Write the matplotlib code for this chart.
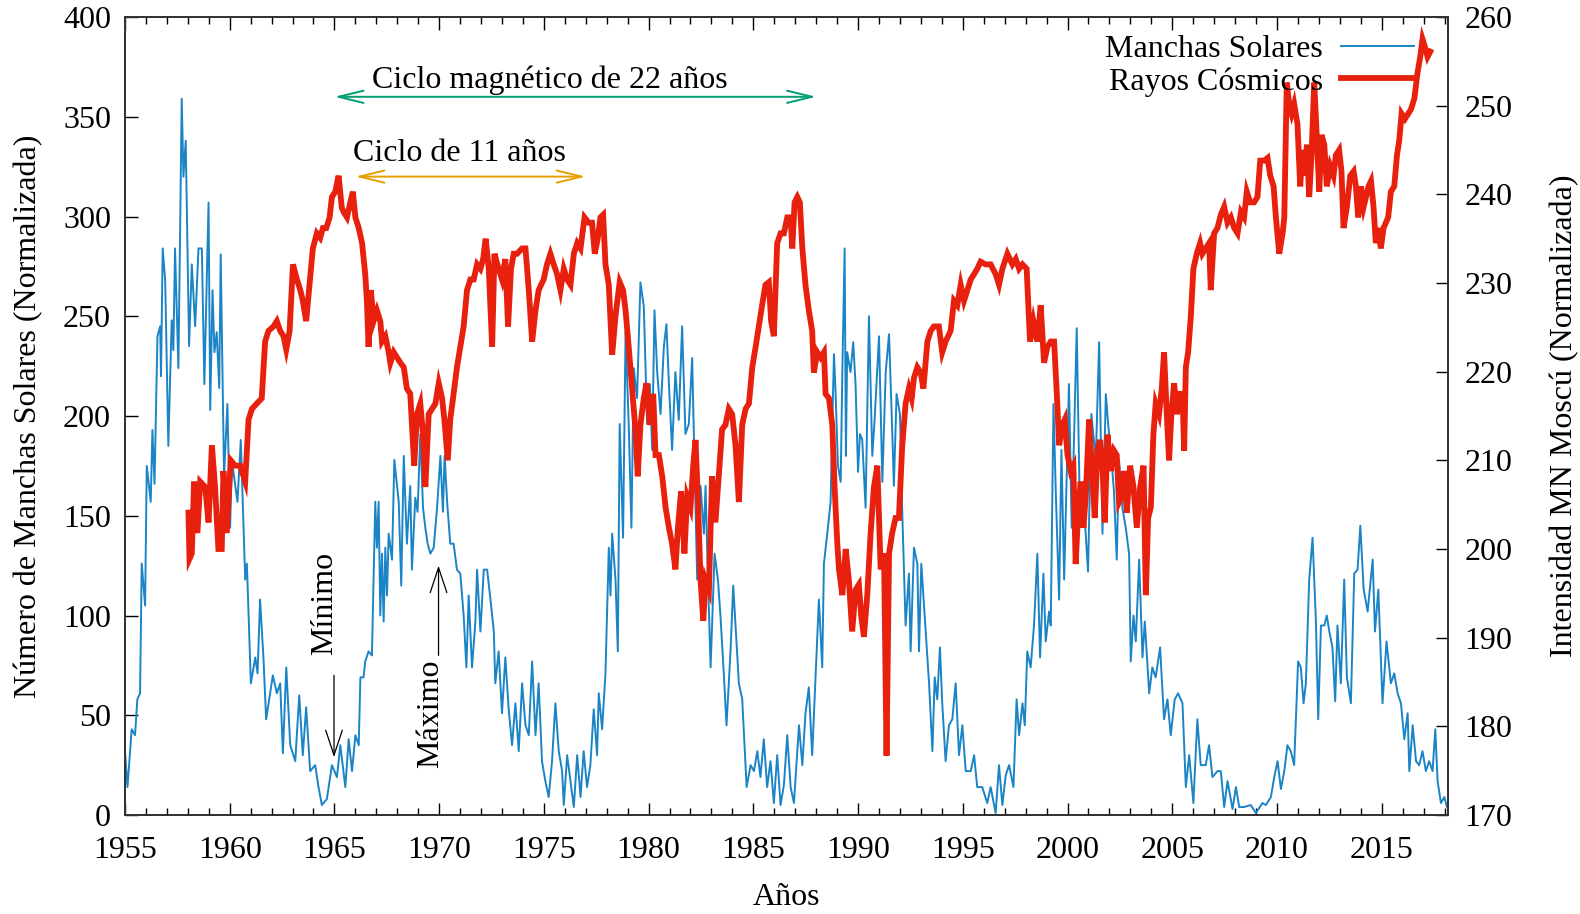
import matplotlib
matplotlib.use("Agg")
import matplotlib.pyplot as plt
from matplotlib.lines import Line2D
from matplotlib.ticker import MultipleLocator

plt.rcParams['font.family'] = ['Liberation Serif', 'DejaVu Serif']
plt.rcParams['mathtext.fontset'] = 'stix'

# Monthly sunspot number (normalised)
sunspot_year = [
    1955.00, 1955.12, 1955.32, 1955.48, 1955.59, 1955.72, 1955.80, 1955.96, 1956.04, 1956.23,
    1956.31, 1956.41, 1956.55, 1956.68, 1956.72, 1956.80, 1956.92, 1957.07, 1957.23, 1957.31,
    1957.39, 1957.55, 1957.71, 1957.79, 1957.90, 1958.06, 1958.19, 1958.35, 1958.51, 1958.67,
    1958.79, 1958.99, 1959.07, 1959.18, 1959.27, 1959.38, 1959.50, 1959.57, 1959.73, 1959.89,
    1960.02, 1960.10, 1960.37, 1960.53, 1960.74, 1960.82, 1961.01, 1961.22, 1961.33, 1961.45,
    1961.61, 1961.74, 1962.06, 1962.25, 1962.41, 1962.54, 1962.70, 1962.89, 1963.13, 1963.32,
    1963.49, 1963.65, 1963.84, 1964.08, 1964.24, 1964.40, 1964.64, 1964.88, 1965.12, 1965.28,
    1965.52, 1965.68, 1965.84, 1966.00, 1966.16, 1966.24, 1966.39, 1966.47, 1966.63, 1966.79,
    1966.95, 1967.03, 1967.11, 1967.19, 1967.27, 1967.35, 1967.43, 1967.51, 1967.59, 1967.75,
    1967.86, 1968.07, 1968.19, 1968.31, 1968.46, 1968.62, 1968.70, 1968.86, 1968.97, 1969.10,
    1969.23, 1969.34, 1969.45, 1969.58, 1969.74, 1969.90, 1970.06, 1970.18, 1970.26, 1970.38,
    1970.53, 1970.69, 1970.85, 1971.01, 1971.17, 1971.30, 1971.41, 1971.57, 1971.73, 1971.81,
    1971.97, 1972.13, 1972.29, 1972.45, 1972.61, 1972.68, 1972.84, 1973.00, 1973.16, 1973.32,
    1973.48, 1973.64, 1973.80, 1973.96, 1974.12, 1974.28, 1974.44, 1974.60, 1974.75, 1974.91,
    1975.07, 1975.23, 1975.39, 1975.55, 1975.71, 1975.87, 1975.95, 1976.11, 1976.27, 1976.43,
    1976.59, 1976.75, 1976.90, 1977.06, 1977.22, 1977.38, 1977.54, 1977.62, 1977.78, 1977.94,
    1978.10, 1978.18, 1978.26, 1978.42, 1978.53, 1978.62, 1978.78, 1978.90, 1979.05, 1979.18,
    1979.29, 1979.45, 1979.61, 1979.77, 1979.93, 1980.06, 1980.17, 1980.28, 1980.41, 1980.57,
    1980.73, 1980.85, 1980.97, 1981.12, 1981.28, 1981.44, 1981.60, 1981.76, 1981.92, 1982.08,
    1982.16, 1982.32, 1982.48, 1982.64, 1982.72, 1982.80, 1982.96, 1983.15, 1983.31, 1983.43,
    1983.59, 1983.72, 1983.91, 1984.04, 1984.15, 1984.31, 1984.47, 1984.68, 1984.87, 1985.03,
    1985.19, 1985.34, 1985.50, 1985.66, 1985.82, 1985.98, 1986.14, 1986.30, 1986.46, 1986.62,
    1986.78, 1986.94, 1987.18, 1987.34, 1987.49, 1987.65, 1987.81, 1987.97, 1988.13, 1988.29,
    1988.37, 1988.53, 1988.69, 1988.77, 1988.85, 1988.93, 1989.04, 1989.17, 1989.25, 1989.36,
    1989.42, 1989.48, 1989.64, 1989.77, 1989.88, 1990.00, 1990.09, 1990.20, 1990.36, 1990.52,
    1990.68, 1990.79, 1991.00, 1991.16, 1991.32, 1991.48, 1991.63, 1991.71, 1991.84, 1992.00,
    1992.11, 1992.27, 1992.43, 1992.51, 1992.67, 1992.83, 1992.91, 1993.02, 1993.23, 1993.39,
    1993.55, 1993.66, 1993.78, 1993.91, 1994.02, 1994.18, 1994.34, 1994.50, 1994.66, 1994.82,
    1994.98, 1995.14, 1995.38, 1995.54, 1995.69, 1995.93, 1996.17, 1996.33, 1996.57, 1996.73,
    1996.89, 1997.05, 1997.21, 1997.42, 1997.57, 1997.69, 1997.85, 1997.96, 1998.08, 1998.24,
    1998.40, 1998.56, 1998.69, 1998.85, 1998.96, 1999.12, 1999.20, 1999.33, 1999.44, 1999.60,
    1999.71, 1999.84, 1999.96, 2000.07, 2000.20, 2000.31, 2000.44, 2000.57, 2000.71, 2000.82,
    2000.98, 2001.14, 2001.35, 2001.51, 2001.67, 2001.83, 2001.94, 2002.10, 2002.22, 2002.35,
    2002.46, 2002.62, 2002.78, 2002.94, 2003.02, 2003.15, 2003.26, 2003.42, 2003.58, 2003.69,
    2003.90, 2004.05, 2004.21, 2004.42, 2004.61, 2004.77, 2004.93, 2005.12, 2005.28, 2005.49,
    2005.65, 2005.81, 2006.01, 2006.20, 2006.36, 2006.60, 2006.76, 2006.92, 2007.16, 2007.32,
    2007.48, 2007.64, 2007.88, 2008.04, 2008.20, 2008.43, 2008.75, 2008.99, 2009.31, 2009.47,
    2009.71, 2009.87, 2010.03, 2010.19, 2010.35, 2010.50, 2010.66, 2010.82, 2011.01, 2011.14,
    2011.27, 2011.38, 2011.54, 2011.70, 2011.86, 2011.97, 2012.10, 2012.26, 2012.38, 2012.50,
    2012.65, 2012.78, 2012.89, 2013.05, 2013.21, 2013.34, 2013.53, 2013.69, 2013.85, 2013.98,
    2014.14, 2014.33, 2014.57, 2014.68, 2014.84, 2015.04, 2015.23, 2015.44, 2015.60, 2015.76,
    2015.92, 2016.08, 2016.24, 2016.32, 2016.48, 2016.64, 2016.79, 2016.95, 2017.11, 2017.27,
    2017.43, 2017.56, 2017.67, 2017.83, 2017.99, 2018.12,
]
sunspot_value = [
    32, 14, 43, 40, 58, 61, 126, 105, 175, 157,
    193, 166, 240, 245, 220, 284, 268, 185, 248, 233,
    284, 224, 359, 320, 338, 235, 276, 245, 284, 284,
    216, 307, 203, 263, 232, 242, 214, 281, 170, 206,
    144, 178, 157, 188, 118, 126, 66, 79, 71, 108,
    79, 48, 70, 61, 66, 31, 74, 35, 27, 60,
    30, 54, 22, 25, 14, 5, 8, 25, 19, 35,
    14, 38, 22, 40, 35, 69, 69, 77, 82, 80,
    157, 134, 157, 100, 131, 97, 134, 110, 141, 128,
    178, 157, 115, 180, 136, 165, 123, 159, 152, 191,
    154, 144, 136, 131, 134, 154, 180, 152, 180, 157,
    136, 136, 123, 121, 100, 74, 110, 74, 97, 123,
    92, 123, 123, 108, 92, 66, 82, 51, 79, 53,
    35, 56, 32, 66, 45, 40, 77, 40, 66, 27,
    17, 9, 27, 56, 32, 22, 5, 30, 17, 4,
    30, 9, 32, 14, 25, 53, 30, 61, 43, 71,
    134, 110, 141, 118, 82, 196, 139, 242, 196, 144,
    224, 209, 267, 255, 196, 216, 183, 253, 222, 201,
    235, 246, 216, 183, 222, 198, 245, 191, 196, 229,
    191, 118, 165, 141, 165, 131, 74, 131, 118, 100,
    71, 45, 82, 115, 95, 66, 58, 14, 25, 22,
    32, 19, 38, 14, 27, 6, 30, 5, 15, 40,
    14, 6, 45, 25, 51, 64, 30, 69, 108, 74,
    126, 141, 157, 196, 231, 211, 175, 167, 222, 284,
    180, 232, 222, 237, 216, 172, 191, 188, 154, 250,
    180, 198, 240, 167, 222, 241, 193, 165, 211, 201,
    152, 95, 121, 82, 134, 126, 82, 126, 92, 66,
    32, 69, 58, 84, 56, 27, 45, 48, 66, 30,
    45, 22, 22, 30, 14, 14, 6, 14, 1, 25,
    5, 20, 25, 14, 58, 40, 56, 45, 82, 74,
    95, 131, 79, 121, 87, 102, 95, 206, 162, 108,
    183, 118, 170, 216, 144, 188, 244, 165, 154, 149,
    122, 201, 178, 237, 141, 211, 196, 178, 162, 128,
    178, 154, 144, 131, 77, 100, 87, 128, 79, 97,
    61, 74, 69, 84, 48, 58, 40, 58, 61, 56,
    14, 30, 6, 48, 25, 25, 35, 19, 22, 22,
    4, 17, 3, 14, 4, 4, 5, 1, 6, 5,
    9, 19, 27, 13, 22, 35, 32, 25, 77, 74,
    56, 66, 118, 139, 97, 48, 95, 95, 100, 92,
    84, 57, 95, 66, 118, 69, 56, 121, 123, 145,
    113, 102, 128, 92, 113, 56, 87, 66, 71, 61,
    56, 38, 51, 22, 45, 27, 25, 32, 22, 27,
    22, 43, 17, 6, 9, 4,
]

# Moscow neutron monitor intensity (normalised)
cosmic_year = [
    1958.03, 1958.08, 1958.19, 1958.30, 1958.46, 1958.59, 1958.83, 1958.99, 1959.15, 1959.30,
    1959.46, 1959.62, 1959.70, 1959.86, 1960.05, 1960.26, 1960.50, 1960.74, 1960.90, 1961.06,
    1961.29, 1961.53, 1961.69, 1961.85, 1962.09, 1962.25, 1962.41, 1962.57, 1962.70, 1962.86,
    1963.02, 1963.21, 1963.37, 1963.49, 1963.65, 1963.81, 1963.97, 1964.16, 1964.32, 1964.45,
    1964.61, 1964.77, 1964.88, 1965.04, 1965.20, 1965.35, 1965.44, 1965.60, 1965.76, 1965.88,
    1966.00, 1966.16, 1966.32, 1966.47, 1966.55, 1966.63, 1966.74, 1966.87, 1967.03, 1967.19,
    1967.27, 1967.43, 1967.59, 1967.67, 1967.83, 1967.99, 1968.15, 1968.31, 1968.46, 1968.62,
    1968.70, 1968.81, 1968.94, 1969.10, 1969.23, 1969.34, 1969.50, 1969.66, 1969.82, 1969.98,
    1970.14, 1970.25, 1970.41, 1970.53, 1970.69, 1970.85, 1971.01, 1971.17, 1971.33, 1971.49,
    1971.65, 1971.81, 1971.97, 1972.10, 1972.22, 1972.37, 1972.53, 1972.64, 1972.84, 1973.00,
    1973.16, 1973.29, 1973.43, 1973.56, 1973.72, 1973.96, 1974.12, 1974.28, 1974.44, 1974.60,
    1974.75, 1974.99, 1975.15, 1975.31, 1975.47, 1975.63, 1975.79, 1975.95, 1976.11, 1976.27,
    1976.43, 1976.59, 1976.75, 1976.94, 1977.14, 1977.30, 1977.43, 1977.57, 1977.70, 1977.83,
    1977.94, 1978.10, 1978.26, 1978.42, 1978.62, 1978.78, 1978.90, 1979.05, 1979.21, 1979.37,
    1979.48, 1979.61, 1979.77, 1979.90, 1980.06, 1980.22, 1980.33, 1980.49, 1980.65, 1980.81,
    1980.97, 1981.12, 1981.28, 1981.40, 1981.55, 1981.71, 1981.84, 1982.00, 1982.13, 1982.24,
    1982.35, 1982.48, 1982.61, 1982.72, 1982.88, 1983.03, 1983.19, 1983.35, 1983.51, 1983.67,
    1983.83, 1983.99, 1984.15, 1984.31, 1984.47, 1984.63, 1984.79, 1984.95, 1985.11, 1985.26,
    1985.42, 1985.58, 1985.74, 1985.85, 1985.98, 1986.14, 1986.30, 1986.46, 1986.62, 1986.78,
    1986.86, 1986.97, 1987.10, 1987.22, 1987.34, 1987.49, 1987.65, 1987.81, 1987.89, 1988.05,
    1988.21, 1988.37, 1988.45, 1988.61, 1988.77, 1988.88, 1989.01, 1989.09, 1989.25, 1989.41,
    1989.56, 1989.72, 1989.88, 1990.04, 1990.15, 1990.28, 1990.44, 1990.60, 1990.76, 1990.92,
    1991.08, 1991.24, 1991.36, 1991.48, 1991.63, 1991.79, 1991.95, 1992.11, 1992.27, 1992.43,
    1992.56, 1992.67, 1992.83, 1992.99, 1993.12, 1993.31, 1993.47, 1993.62, 1993.86, 1994.02,
    1994.18, 1994.42, 1994.58, 1994.74, 1994.90, 1995.06, 1995.22, 1995.38, 1995.54, 1995.69,
    1995.85, 1996.09, 1996.33, 1996.57, 1996.73, 1996.89, 1997.13, 1997.37, 1997.53, 1997.69,
    1997.85, 1998.05, 1998.21, 1998.37, 1998.56, 1998.72, 1998.88, 1999.04, 1999.20, 1999.36,
    1999.49, 1999.60, 1999.76, 1999.87, 2000.00, 2000.15, 2000.28, 2000.39, 2000.52, 2000.63,
    2000.76, 2000.87, 2001.03, 2001.19, 2001.30, 2001.43, 2001.56, 2001.67, 2001.78, 2001.91,
    2002.06, 2002.22, 2002.35, 2002.46, 2002.57, 2002.70, 2002.83, 2002.99, 2003.15, 2003.31,
    2003.47, 2003.63, 2003.74, 2003.85, 2003.98, 2004.10, 2004.21, 2004.37, 2004.50, 2004.61,
    2004.74, 2004.85, 2004.96, 2005.09, 2005.22, 2005.38, 2005.49, 2005.57, 2005.65, 2005.76,
    2005.89, 2006.01, 2006.17, 2006.33, 2006.44, 2006.60, 2006.76, 2006.84, 2007.00, 2007.16,
    2007.32, 2007.48, 2007.64, 2007.80, 2007.96, 2008.12, 2008.28, 2008.43, 2008.56, 2008.72,
    2008.91, 2009.07, 2009.20, 2009.39, 2009.55, 2009.68, 2009.84, 2009.95, 2010.11, 2010.27,
    2010.35, 2010.47, 2010.58, 2010.70, 2010.82, 2010.98, 2011.11, 2011.22, 2011.33, 2011.43,
    2011.54, 2011.65, 2011.78, 2011.91, 2012.02, 2012.13, 2012.26, 2012.38, 2012.54, 2012.70,
    2012.81, 2012.97, 2013.08, 2013.18, 2013.34, 2013.50, 2013.66, 2013.77, 2013.88, 2014.01,
    2014.14, 2014.25, 2014.37, 2014.49, 2014.61, 2014.72, 2014.84, 2014.96, 2015.09, 2015.20,
    2015.31, 2015.44, 2015.60, 2015.73, 2015.84, 2015.95, 2016.11, 2016.27, 2016.40, 2016.56,
    2016.71, 2016.84, 2016.95, 2017.07, 2017.19, 2017.32,
]
cosmic_value = [
    204.1, 198.9, 199.5, 207.6, 201.8, 207.6, 207.0, 203.0, 211.7, 207.0,
    200.0, 200.0, 208.8, 201.8, 210.0, 209.4, 209.4, 207.6, 214.6, 215.8,
    216.4, 217.0, 223.4, 224.6, 225.1, 225.7, 224.6, 224.0, 222.5, 224.6,
    232.1, 230.4, 229.2, 228.0, 225.7, 229.8, 233.9, 235.6, 235.1, 236.2,
    236.2, 237.4, 239.7, 240.3, 242.1, 238.5, 238.0, 237.4, 239.1, 240.3,
    237.4, 236.2, 234.5, 231.0, 228.0, 222.8, 229.2, 225.7, 226.9, 225.7,
    223.4, 224.0, 222.2, 221.0, 222.2, 221.6, 221.0, 220.5, 218.1, 217.5,
    214.0, 209.4, 215.2, 216.4, 212.9, 207.0, 215.2, 215.8, 216.4, 218.7,
    217.0, 214.6, 210.0, 214.6, 217.5, 220.5, 222.8, 225.1, 229.2, 230.4,
    230.4, 232.1, 231.6, 232.7, 235.0, 231.6, 222.8, 233.3, 231.6, 230.4,
    232.7, 225.1, 231.6, 233.3, 233.3, 233.9, 233.9, 229.2, 223.4, 226.9,
    229.2, 230.4, 232.1, 233.3, 232.1, 231.0, 229.2, 231.6, 230.4, 229.8,
    233.3, 234.5, 233.9, 237.4, 236.8, 236.8, 233.3, 235.0, 237.4, 237.7,
    232.1, 229.8, 221.9, 226.3, 230.1, 229.2, 226.9, 222.8, 218.1, 213.5,
    208.2, 214.0, 217.0, 218.7, 214.0, 217.5, 210.6, 210.6, 208.2, 204.7,
    202.4, 200.6, 197.7, 202.4, 206.5, 199.5, 205.9, 204.7, 209.4, 212.3,
    205.9, 196.5, 191.9, 196.5, 195.4, 208.2, 203.0, 208.2, 213.5, 214.0,
    215.8, 215.2, 211.7, 205.3, 214.0, 215.8, 216.4, 220.5, 222.8, 225.1,
    227.5, 229.8, 230.1, 225.7, 224.0, 234.5, 235.6, 235.6, 237.4, 237.4,
    233.9, 239.1, 239.7, 239.1, 233.9, 229.8, 226.9, 224.6, 219.9, 222.2,
    221.6, 222.2, 217.5, 217.0, 214.0, 207.0, 200.6, 197.7, 194.8, 200.0,
    196.5, 190.7, 195.4, 196.0, 192.5, 190.1, 194.8, 201.8, 207.0, 209.4,
    197.7, 199.5, 176.7, 199.5, 201.8, 203.5, 203.5, 211.7, 216.4, 218.1,
    217.0, 219.3, 220.5, 219.9, 218.1, 223.4, 224.6, 225.1, 225.1, 222.2,
    223.4, 224.6, 228.0, 227.5, 229.8, 228.0, 229.2, 230.4, 231.0, 231.6,
    232.4, 232.1, 232.1, 231.0, 229.8, 231.6, 233.3, 232.1, 232.7, 231.6,
    232.1, 231.6, 223.4, 225.7, 223.4, 227.5, 221.0, 222.8, 223.4, 223.4,
    217.5, 211.7, 214.0, 214.6, 210.6, 208.8, 209.4, 198.3, 204.7, 207.6,
    202.4, 205.9, 214.6, 208.2, 203.5, 211.1, 212.3, 209.4, 203.0, 212.9,
    208.8, 211.1, 210.6, 205.3, 205.9, 208.8, 204.1, 209.4, 207.0, 202.4,
    207.0, 209.4, 194.8, 203.5, 204.7, 212.9, 216.4, 215.2, 218.1, 222.2,
    215.2, 210.0, 215.2, 218.7, 215.2, 217.5, 217.5, 211.1, 220.5, 222.2,
    226.3, 231.6, 233.3, 234.5, 233.3, 233.9, 234.5, 229.2, 235.6, 236.2,
    237.7, 238.6, 236.8, 237.4, 236.2, 235.6, 238.0, 237.4, 240.3, 239.1,
    239.1, 239.7, 243.8, 243.8, 244.1, 242.1, 240.9, 237.4, 233.3, 235.6,
    237.4, 252.6, 250.2, 249.1, 250.2, 247.9, 240.9, 245.0, 242.1, 245.6,
    239.7, 244.4, 252.6, 246.1, 240.3, 246.7, 245.6, 240.9, 243.2, 242.1,
    244.4, 245.0, 242.6, 236.2, 238.6, 242.1, 242.6, 240.9, 237.4, 240.9,
    238.6, 239.7, 240.9, 241.5, 238.6, 234.5, 236.2, 233.9, 236.2, 236.8,
    237.4, 240.3, 240.9, 244.4, 246.1, 249.1, 248.5, 249.1, 249.6, 250.8,
    253.7, 255.5, 257.5, 256.6, 255.5, 256.1,
]

x_ticks = [1955, 1960, 1965, 1970, 1975, 1980, 1985, 1990, 1995, 2000, 2005, 2010, 2015]
left_ticks = [0, 50, 100, 150, 200, 250, 300, 350, 400]
right_ticks = [170, 180, 190, 200, 210, 220, 230, 240, 250, 260]

BLUE = '#1a84c6'
RED = '#e8210f'
GREEN = '#009e73'
ORANGE = '#e69f00'
FS = 23

fig = plt.figure(figsize=(15.8, 9.14), dpi=100)
ax = fig.add_axes([0.0791, 0.1083, 0.8374, 0.8731])
ax2 = ax.twinx()

ax.plot(sunspot_year, sunspot_value, color=BLUE, lw=1.4, zorder=2)
ax2.plot(cosmic_year, cosmic_value, color=RED, lw=4.2, solid_joinstyle='miter', zorder=3)

ax.set_xlim(1955, 2018.17)
ax.set_ylim(0, 400)
ax2.set_ylim(170, 260)

ax.set_xticks(x_ticks)
ax.xaxis.set_minor_locator(MultipleLocator(1))
ax.set_yticks(left_ticks)
ax2.set_yticks(right_ticks)

for a in (ax, ax2):
    for s in a.spines.values():
        s.set_linewidth(1.3)
        s.set_color('#333333')

ax.tick_params(axis='x', which='major', direction='in', length=9, width=1.0,
               top=True, labelsize=FS, pad=15)
ax.tick_params(axis='x', which='minor', direction='in', length=5, width=1.0, top=True)
ax.tick_params(axis='y', which='major', direction='in', length=9, width=1.0,
               right=False, labelsize=FS, pad=10)
ax2.tick_params(axis='y', which='major', direction='in', length=9, width=1.0,
                labelsize=FS, pad=12)

ax.set_xlabel('Años', fontsize=FS, labelpad=13)
ax.set_ylabel('Número de Manchas Solares (Normalizada)', fontsize=FS, labelpad=14)
ax2.set_ylabel('Intensidad MN Moscú (Normalizada)', fontsize=FS, labelpad=27)

# Cycle arrows
ax.annotate('', xy=(1965.0, 360), xytext=(1988.0, 360),
            arrowprops=dict(arrowstyle='<->,head_length=0.9,head_width=0.22', color=GREEN,
                            lw=1.4, shrinkA=0, shrinkB=0, mutation_scale=20), zorder=5)
ax.text(1975.3, 364.5, 'Ciclo magnético de 22 años', fontsize=FS, ha='center', va='baseline', zorder=5)

ax.annotate('', xy=(1966.0, 320), xytext=(1977.0, 320),
            arrowprops=dict(arrowstyle='<->,head_length=0.9,head_width=0.22', color=ORANGE,
                            lw=1.4, shrinkA=0, shrinkB=0, mutation_scale=20), zorder=5)
ax.text(1970.95, 328, 'Ciclo de 11 años', fontsize=FS, ha='center', va='baseline', zorder=5)

# Minimum / maximum markers
ax.annotate('', xy=(1964.98, 29), xytext=(1964.98, 70),
            arrowprops=dict(arrowstyle='->,head_length=0.9,head_width=0.3', color='black',
                            lw=0.9, shrinkA=0, shrinkB=0, mutation_scale=20), zorder=5)
ax.text(1964.55, 106, 'Mínimo', fontsize=FS, rotation=90, ha='center', va='center', zorder=5)

ax.annotate('', xy=(1969.97, 125), xytext=(1969.97, 80),
            arrowprops=dict(arrowstyle='->,head_length=0.9,head_width=0.3', color='black',
                            lw=0.9, shrinkA=0, shrinkB=0, mutation_scale=20), zorder=5)
ax.text(1969.6, 51, 'Máximo', fontsize=FS, rotation=90, ha='center', va='center', zorder=5)

handles = [Line2D([], [], color=BLUE, lw=1.4), Line2D([], [], color=RED, lw=4.2)]
ax2.legend(handles, ['Manchas Solares', 'Rayos Cósmicos'], loc='upper right',
           bbox_to_anchor=(0.9743, 0.978), frameon=False, markerfirst=False,
           fontsize=FS, handlelength=2.3, handletextpad=0.55, labelspacing=0.1,
           borderpad=0.0, borderaxespad=0.0)

fig.savefig('out.png', dpi=100)
